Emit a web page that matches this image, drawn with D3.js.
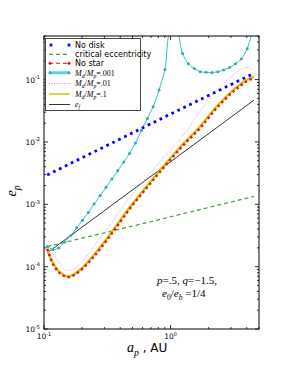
<!DOCTYPE html>
<html>
<head>
<meta charset="utf-8">
<script src="https://cdn.jsdelivr.net/npm/d3@7"></script>
<style>
  body { margin: 0; background: #fff; }
  svg { display: block; }
</style>
</head>
<body>
<svg id="chart" width="288" height="370"></svg>
<script>
// datos (a_p en AU, e_p)
const noDiskA = [0.106, 1.0, 4.56];
const noDiskE = [2.95e-3, 0.028, 0.126];

const critA = [0.106, 0.613, 4.56];
const critE = [2.1e-4, 4.94e-4, 1.34e-3];

const efA = [0.106, 4.56];
const efE = [1.66e-4, 0.0468];

const noStarA = [0.106, 0.115, 0.126, 0.142, 0.155, 0.170, 0.204, 0.244, 0.312, 0.397, 0.448, 0.605, 0.819, 0.982, 1.25, 1.69, 2.29, 3.10, 3.95, 4.56];
const noStarE = [1.93e-4, 1.22e-4, 8.9e-5, 7.2e-5, 6.8e-5, 7.2e-5, 9.5e-5, 1.40e-4, 2.62e-4, 5.1e-4, 7.2e-4, 1.55e-3, 3.25e-3, 5.0e-3, 8.7e-3, 0.0162, 0.034, 0.063, 0.092, 0.107];

const disk1A = noStarA;
const disk1E = [1.95e-4, 1.25e-4, 9.2e-5, 7.4e-5, 7.0e-5, 7.4e-5, 9.9e-5, 1.48e-4, 2.78e-4, 5.4e-4, 7.6e-4, 1.64e-3, 3.45e-3, 5.3e-3, 9.2e-3, 0.0172, 0.036, 0.067, 0.097, 0.112];

const disk01A = [0.106, 0.122, 0.134, 0.146, 0.160, 0.181, 0.217, 0.276, 0.351, 0.448, 0.605, 0.819, 1.37, 1.69, 2.29, 3.10, 3.71, 4.14, 4.56];
const disk01E = [2.0e-4, 1.47e-4, 1.08e-4, 9.0e-5, 8.7e-5, 1.0e-4, 1.48e-4, 2.8e-4, 5.4e-4, 1.1e-3, 2.3e-3, 4.75e-3, 0.0162, 0.0301, 0.067, 0.117, 0.150, 0.156, 0.141];

const disk001A = [0.106, 0.118, 0.131, 0.146, 0.163, 0.181, 0.201, 0.224, 0.249, 0.278, 0.309, 0.344, 0.383, 0.427, 0.474, 0.528, 0.588, 0.655, 0.728, 0.811, 0.902, 1.005,
                  1.117, 1.244, 1.384, 1.540, 1.714, 1.908, 2.123, 2.363, 2.63, 2.93, 3.26, 3.62, 4.03, 4.49];
const disk001E = [2.1e-4, 1.88e-4, 2.0e-4, 2.48e-4, 3.16e-4, 4.2e-4, 5.52e-4, 7.4e-4, 1.01e-3, 1.38e-3, 1.87e-3, 2.55e-3, 3.48e-3, 4.78e-3, 6.53e-3, 9.6e-3, 0.0152, 0.0238, 0.0367, 0.0682, 0.145, 0.62,
                  0.6, 0.262, 0.179, 0.150, 0.134, 0.131, 0.130, 0.134, 0.143, 0.156, 0.179, 0.213, 0.313, 0.65];

const yTicks = [1e-5, 1e-4, 1e-3, 1e-2, 1e-1];
const yTickExp = ['-5', '-4', '-3', '-2', '-1'];
const xTicks = [0.1, 1];
const xTickExp = ['-1', '0'];

const svg = d3.select('#chart');
const pLeft = 44, pRight = 259, pTop = 36, pBottom = 329;

const x = d3.scaleLog().domain([0.1, 5]).range([pLeft, pRight]);
const y = d3.scaleLog().domain([1e-5, 0.5]).range([pBottom, pTop]);

svg.append('clipPath').attr('id', 'plotClip')
    .append('rect').attr('x', pLeft).attr('y', pTop).attr('width', pRight - pLeft).attr('height', pBottom - pTop);

const plot = svg.append('g').attr('clip-path', 'url(#plotClip)');

function pares(a, e) {
    return a.map(function (v, i) { return [v, e[i]]; });
}

const line = d3.line()
    .x(function (d) { return x(d[0]); })
    .y(function (d) { return y(d[1]); })
    .curve(d3.curveMonotoneX);

const lineRecta = d3.line()
    .x(function (d) { return x(d[0]); })
    .y(function (d) { return y(d[1]); });

// critical eccentricity
plot.append('path').attr('d', lineRecta(pares(critA, critE)))
    .attr('fill', 'none').attr('stroke', '#3f9f3f').attr('stroke-width', 1.2).attr('stroke-dasharray', '4,3');

// e_f
plot.append('path').attr('d', lineRecta(pares(efA, efE)))
    .attr('fill', 'none').attr('stroke', '#333').attr('stroke-width', 1);

// Md/Mp = .1
plot.append('path').attr('d', line(pares(disk1A, disk1E)))
    .attr('fill', 'none').attr('stroke', '#cfc61a').attr('stroke-width', 2.4);

// No star
plot.append('path').attr('d', line(pares(noStarA, noStarE)))
    .attr('fill', 'none').attr('stroke', '#f01010').attr('stroke-width', 2.4).attr('stroke-dasharray', '2.4,2.8');

// Md/Mp = .01
plot.append('path').attr('d', line(pares(disk01A, disk01E)))
    .attr('fill', 'none').attr('stroke', '#ee82ee').attr('stroke-width', 1).attr('stroke-dasharray', '1,1.8');

// Md/Mp = .001
const cyanPts = pares(disk001A, disk001E);
plot.append('path').attr('d', d3.line().x(function (d) { return x(d[0]); }).y(function (d) { return y(d[1]); }).curve(d3.curveCatmullRom)(cyanPts))
    .attr('fill', 'none').attr('stroke', '#2ec4c4').attr('stroke-width', 1);
plot.selectAll('.cyanDot').data(cyanPts).enter().append('circle')
    .attr('cx', function (d) { return x(d[0]); })
    .attr('cy', function (d) { return y(d[1]); })
    .attr('r', 1.5).attr('fill', '#2aaeae');

// No disk (puntos azules)
plot.append('path').attr('d', lineRecta(pares(noDiskA, noDiskE)))
    .attr('fill', 'none').attr('stroke', '#0000ff').attr('stroke-width', 2.8).attr('stroke-dasharray', '2.7,3.9');

// marco y ticks
svg.append('rect').attr('x', pLeft).attr('y', pTop).attr('width', pRight - pLeft).attr('height', pBottom - pTop)
    .attr('fill', 'none').attr('stroke', '#000').attr('stroke-width', 1);

const ticks = svg.append('g').attr('stroke', '#000').attr('stroke-width', 0.8);

function yMinor() {
    var out = [];
    for (var p = -5; p < 0; p++) {
        for (var k = 1; k < 10; k++) {
            var v = k * Math.pow(10, p);
            if (v <= 0.5) out.push({ v: v, major: k === 1 });
        }
    }
    return out;
}
function xMinor() {
    var out = [];
    [0.1, 1].forEach(function (b) {
        for (var k = 1; k < 10; k++) {
            var v = k * b;
            if (v <= 5) out.push({ v: v, major: k === 1 });
        }
    });
    return out;
}

yMinor().forEach(function (t) {
    var len = t.major ? 4 : 2;
    var py = y(t.v);
    ticks.append('line').attr('x1', pLeft).attr('x2', pLeft + len).attr('y1', py).attr('y2', py);
    ticks.append('line').attr('x1', pRight).attr('x2', pRight - len).attr('y1', py).attr('y2', py);
});
xMinor().forEach(function (t) {
    var len = t.major ? 4 : 2;
    var px = x(t.v);
    ticks.append('line').attr('x1', px).attr('x2', px).attr('y1', pBottom).attr('y2', pBottom - len);
    ticks.append('line').attr('x1', px).attr('x2', px).attr('y1', pTop).attr('y2', pTop + len);
});

// etiquetas de ticks
const tickFont = 'DejaVu Sans, sans-serif';
yTicks.forEach(function (v, i) {
    var t = svg.append('text').attr('x', 40).attr('y', y(v) + 3)
        .attr('text-anchor', 'end').attr('font-family', tickFont).attr('font-size', 7.5);
    t.append('tspan').text('10');
    t.append('tspan').attr('dy', -3.5).attr('font-size', 5).text(yTickExp[i]);
});
xTicks.forEach(function (v, i) {
    var t = svg.append('text').attr('x', x(v)).attr('y', 339)
        .attr('text-anchor', 'middle').attr('font-family', tickFont).attr('font-size', 7.5);
    t.append('tspan').text('10');
    t.append('tspan').attr('dy', -3.5).attr('font-size', 5).text(xTickExp[i]);
});

// texto matematico
const serif = 'Liberation Serif, DejaVu Serif, serif';
function mathText(g, parts, size) {
    parts.forEach(function (p) {
        var ts = g.append('tspan').text(p.t);
        if (p.it) ts.attr('font-style', 'italic');
        if (p.sub) ts.attr('font-size', size * 0.7).attr('dy', size * 0.25);
        if (p.back) ts.attr('dy', -size * 0.25);
        if (p.sans) ts.attr('font-family', tickFont);
    });
}

// eje y
const yl = svg.append('text').attr('transform', 'translate(16,191) rotate(-90)')
    .attr('text-anchor', 'middle').attr('font-family', serif).attr('font-size', 14);
mathText(yl, [{ t: 'e', it: true }, { t: 'p', it: true, sub: true }], 14);

// eje x
const xl = svg.append('text').attr('x', 127).attr('y', 352)
    .attr('font-family', serif).attr('font-size', 14);
mathText(xl, [{ t: 'a', it: true }, { t: 'p', it: true, sub: true }, { t: ' , AU', sans: true, back: true }], 14);
xl.select('tspan:last-child').attr('font-size', 12);

// anotacion
const an1 = svg.append('text').attr('x', 157).attr('y', 284).attr('font-family', serif).attr('font-size', 11);
mathText(an1, [{ t: 'p', it: true }, { t: '=.5, ' }, { t: 'q', it: true }, { t: '=\u22121.5,' }], 11);
const an2 = svg.append('text').attr('x', 162).attr('y', 297).attr('font-family', serif).attr('font-size', 11);
mathText(an2, [{ t: 'e', it: true }, { t: '0', sub: true }, { t: '/', back: true }, { t: 'e', it: true }, { t: 'b', it: true, sub: true }, { t: ' =1/4', back: true }], 11);

// leyenda
const leg = svg.append('g');
leg.append('rect').attr('x', 45.5).attr('y', 38.5).attr('width', 95).attr('height', 72)
    .attr('fill', '#fff').attr('stroke', '#444').attr('stroke-width', 1);

const legRows = [
    { y: 45, kind: 'nodisk', label: [{ t: 'No disk', sans: true }] },
    { y: 54.3, kind: 'crit', label: [{ t: 'critical eccentricity', sans: true }] },
    { y: 63.3, kind: 'nostar', label: [{ t: 'No star', sans: true }] },
    { y: 72.8, kind: 'd001', label: [{ t: 'M', it: true }, { t: 'd', it: true, sub: true }, { t: '/', back: true }, { t: 'M', it: true }, { t: 'p', it: true, sub: true }, { t: '=.001', back: true }] },
    { y: 83.5, kind: 'd01', label: [{ t: 'M', it: true }, { t: 'd', it: true, sub: true }, { t: '/', back: true }, { t: 'M', it: true }, { t: 'p', it: true, sub: true }, { t: '=.01', back: true }] },
    { y: 94, kind: 'd1', label: [{ t: 'M', it: true }, { t: 'd', it: true, sub: true }, { t: '/', back: true }, { t: 'M', it: true }, { t: 'p', it: true, sub: true }, { t: '=.1', back: true }] },
    { y: 104.5, kind: 'ef', label: [{ t: 'e', it: true }, { t: 'f', it: true, sub: true }] }
];

legRows.forEach(function (r) {
    var x1 = 49, x2 = 70;
    if (r.kind === 'nodisk') {
        [51, 69].forEach(function (cx) {
            leg.append('rect').attr('x', cx - 1.4).attr('y', r.y - 1.4).attr('width', 2.8).attr('height', 2.8).attr('fill', '#0000ff');
        });
    } else if (r.kind === 'crit') {
        leg.append('line').attr('x1', x1).attr('x2', x2).attr('y1', r.y).attr('y2', r.y)
            .attr('stroke', '#3f9f3f').attr('stroke-width', 1.2).attr('stroke-dasharray', '4,3');
    } else if (r.kind === 'nostar') {
        leg.append('line').attr('x1', x1).attr('x2', x2).attr('y1', r.y).attr('y2', r.y)
            .attr('stroke', '#f01010').attr('stroke-width', 1).attr('stroke-dasharray', '4,3');
        [50, 69].forEach(function (cx) {
            leg.append('circle').attr('cx', cx).attr('cy', r.y).attr('r', 1.5).attr('fill', '#f01010');
        });
    } else if (r.kind === 'd001') {
        leg.append('line').attr('x1', x1).attr('x2', x2).attr('y1', r.y).attr('y2', r.y)
            .attr('stroke', '#5fd6d6').attr('stroke-width', 3);
        [50, 69].forEach(function (cx) {
            leg.append('circle').attr('cx', cx).attr('cy', r.y).attr('r', 1.5).attr('fill', '#2aaeae');
        });
    } else if (r.kind === 'd01') {
        leg.append('line').attr('x1', x1).attr('x2', x2).attr('y1', r.y).attr('y2', r.y)
            .attr('stroke', '#ee82ee').attr('stroke-width', 1).attr('stroke-dasharray', '1,1.5');
    } else if (r.kind === 'd1') {
        leg.append('line').attr('x1', x1).attr('x2', x2).attr('y1', r.y).attr('y2', r.y)
            .attr('stroke', '#cfc61a').attr('stroke-width', 1.5);
    } else {
        leg.append('line').attr('x1', x1).attr('x2', x2).attr('y1', r.y).attr('y2', r.y)
            .attr('stroke', '#333').attr('stroke-width', 1);
    }
    var t = leg.append('text').attr('x', 75).attr('y', r.y + 2.7)
        .attr('font-family', serif).attr('font-size', 8);
    mathText(t, r.label, 8);
});
</script>
</body>
</html>
